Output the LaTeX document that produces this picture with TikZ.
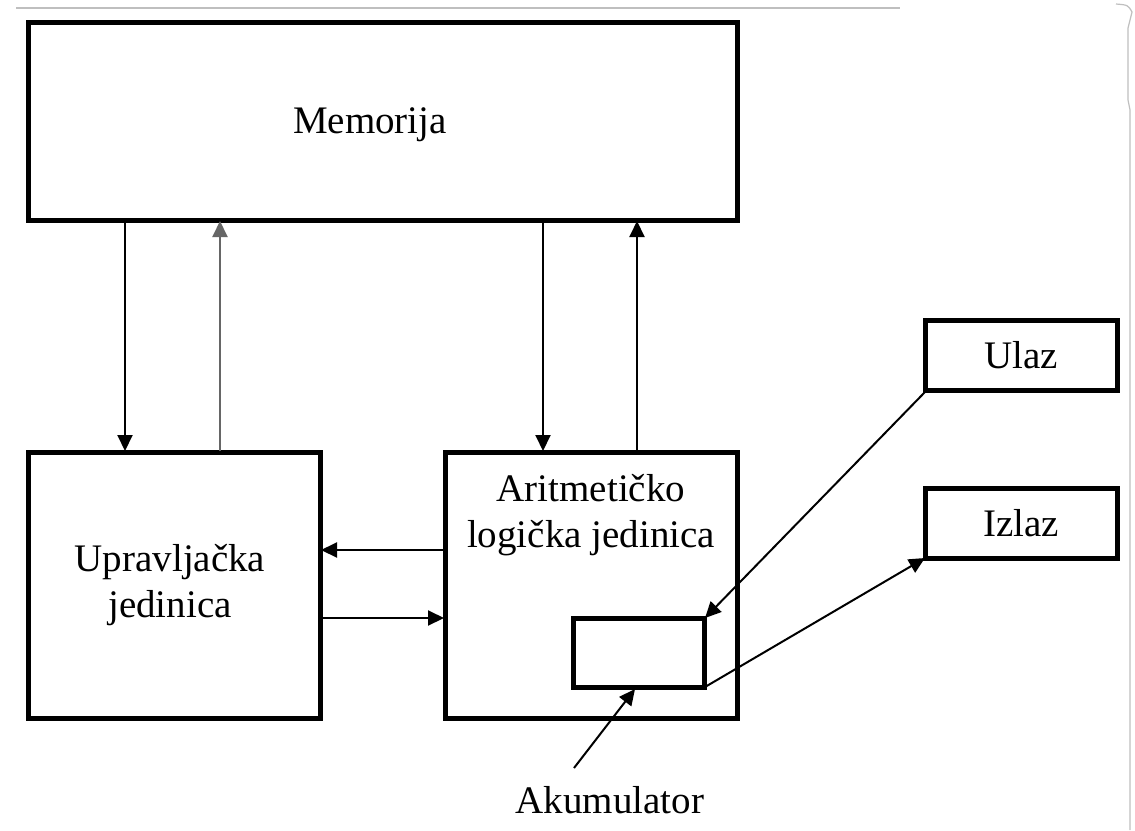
\documentclass[tikz,border=0pt]{standalone}
\usepackage{fontspec}
\setmainfont{Liberation Serif}
\usetikzlibrary{arrows.meta}
\begin{document}
\begin{tikzpicture}[x=0.5pt,y=-0.5pt,
  blk/.style={draw,line width=2.5pt,inner sep=0pt},
  con/.style={line width=1pt,-{Triangle[length=8pt,width=7.5pt]}},
  lbl/.style={font=\fontsize{19.5}{23}\selectfont,align=center}]
\useasboundingbox (0,0) rectangle (1135,830);
\fill[white] (0,0) rectangle (1135,830);
% scan artefacts
\draw[gray!50,line width=0.6pt] (16,8) -- (900,8);
\draw[gray!50,line width=0.6pt] (1116,4) .. controls (1128,5) .. (1132,12) -- (1128,28) -- (1128,100) -- (1130,110) -- (1130,830);
% boxes
\draw[blk] (28,22) rectangle (737,220);
\node[lbl] (mem) at (370,125) {Memorija};
\draw[blk] (28,452) rectangle (320,718);
\node[lbl] (upr) at (170,585) {Upravljačka\\jedinica};
\draw[blk] (445,452) rectangle (737,718);
\node[lbl] (alu) at (591,515) {Aritmetičko\\logička jedinica};
\draw[blk] (925,320) rectangle (1117,390);
\node[lbl] (ulaz) at (1021,355) {Ulaz};
\draw[blk] (925,488) rectangle (1117,558);
\node[lbl] (izlaz) at (1021,523) {Izlaz};
\draw[blk] (573,618) rectangle (704,687);
\node[lbl] (ak) at (610,800) {Akumulator};
% coordinates
\coordinate (m1) at (125,221); \coordinate (u1) at (125,451);
\coordinate (m2) at (220,221); \coordinate (u2) at (220,451);
\coordinate (m3) at (543,221); \coordinate (a3) at (543,451);
\coordinate (m4) at (637,221); \coordinate (a4) at (637,451);
\coordinate (al) at (444,550); \coordinate (ul) at (321,550);
\coordinate (ur) at (321,618); \coordinate (ar) at (444,618);
\coordinate (ulz) at (925,392); \coordinate (acin) at (705,618);
\coordinate (acout) at (705,687); \coordinate (izl) at (925,558);
\coordinate (aks) at (574,768); \coordinate (ake) at (635,689);
% connectors
\draw[con] (m1) -- (u1);
\draw[con,draw=gray!80!black] (u2) -- (m2);
\draw[con] (m3) -- (a3);
\draw[con] (a4) -- (m4);
\draw[con] (al) -- (ul);
\draw[con] (ur) -- (ar);
\draw[con] (ulz) -- (acin);
\draw[con] (acout) -- (izl);
\draw[con] (aks) -- (ake);
\end{tikzpicture}
\end{document}
